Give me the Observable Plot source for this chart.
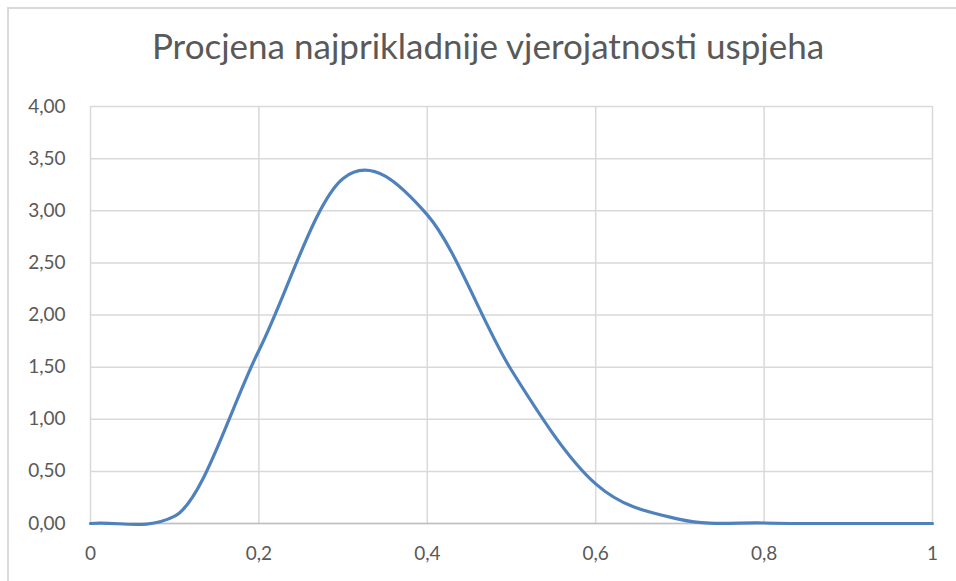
<!DOCTYPE html>
<html>
<head>
<meta charset="utf-8">
<script src="https://cdn.jsdelivr.net/npm/d3@7"></script>
<script src="https://cdn.jsdelivr.net/npm/@observablehq/plot@0.6"></script>
<style>
  html, body { margin: 0; padding: 0; background: #fff; }
  #wrap { position: relative; width: 956px; height: 581px; overflow: hidden; background: #fff; }
  #frame { position: absolute; left: 7px; top: 7px; width: 1000px; height: 1000px;
           border-top: 2px solid #d9d9d9; border-left: 2px solid #d9d9d9; box-sizing: border-box; }
  #title { position: relative; height: 90px; width: 956px; text-align: center;
           font-family: Lato, "Open Sans", sans-serif; font-size: 35px; color: #595959;
           line-height: 90px; padding-left: 20px; box-sizing: border-box; white-space: nowrap; }
  #chart { position: relative; }
  #chart svg { display: block; }
</style>
</head>
<body>
<div id="wrap">
  <div id="frame"></div>
  <div id="title">Procjena najprikladnije vjerojatnosti uspjeha</div>
  <div id="chart"></div>
</div>
<script>
const title = "Procjena najprikladnije vjerojatnosti uspjeha";
const probability = [0, 0.1, 0.2, 0.3, 0.4, 0.5, 0.6, 0.7, 0.8, 0.9, 1.0];
const density = [0, 0.07, 1.66, 3.31, 2.96, 1.47, 0.38, 0.04, 0.005, 0, 0];
const xTicks = [0, 0.2, 0.4, 0.6, 0.8, 1];
const yTicks = [0, 0.5, 1, 1.5, 2, 2.5, 3, 3.5, 4];

const data = probability.map((p, i) => ({p, d: density[i]}));
const comma = s => s.replace(".", ",");

// Smoothed line: uniform Catmull-Rom tangents, limited relative to the adjacent secant (spreadsheet-like smoothing)
function smoothCurve(context) {
  let pts = [];
  return {
    areaStart() {}, areaEnd() {},
    lineStart() { pts = []; },
    point(x, y) { pts.push([+x, +y]); },
    lineEnd() {
      const n = pts.length;
      if (!n) return;
      context.moveTo(pts[0][0], pts[0][1]);
      if (n === 1) return;
      const mx = [], my = [];
      for (let i = 0; i < n; i++) {
        const a = pts[Math.max(0, i - 1)], b = pts[Math.min(n - 1, i + 1)];
        const span = (Math.min(n - 1, i + 1) - Math.max(0, i - 1));
        mx[i] = (b[0] - a[0]) / span;
        let m = (b[1] - a[1]) / span;
        const secs = [];
        if (i > 0) secs.push(Math.abs(pts[i][1] - pts[i - 1][1]));
        if (i < n - 1) secs.push(Math.abs(pts[i + 1][1] - pts[i][1]));
        const lim = 6 * Math.min(...secs);
        if (Math.abs(m) > lim) m = Math.sign(m) * lim;
        my[i] = m;
      }
      for (let i = 0; i < n - 1; i++) {
        const p0 = pts[i], p1 = pts[i + 1];
        context.bezierCurveTo(
          p0[0] + mx[i] / 3, p0[1] + my[i] / 3,
          p1[0] - mx[i + 1] / 3, p1[1] - my[i + 1] / 3,
          p1[0], p1[1]);
      }
    },
  };
}

const plot = Plot.plot({
  width: 956,
  height: 491,
  marginTop: 16,
  marginBottom: 58,
  marginLeft: 90,
  marginRight: 24,
  style: { fontFamily: "Lato, 'Open Sans', sans-serif", fontSize: "19px", color: "#595959", background: "transparent" },
  x: { domain: [0, 1] },
  y: { domain: [0, 4] },
  marks: [
    Plot.gridX(xTicks, { stroke: "#d9d9d9", strokeOpacity: 1, strokeWidth: 1.5 }),
    Plot.gridY(yTicks, { stroke: "#d9d9d9", strokeOpacity: 1, strokeWidth: 1.5 }),
    Plot.ruleY([0], { stroke: "#bfbfbf", strokeWidth: 1.5 }),
    Plot.axisX(xTicks, { tickSize: 0, tickPadding: 23, tickFormat: d => comma(String(d)), label: null, fill: "#595959" }),
    Plot.axisY(yTicks, { tickSize: 0, tickPadding: 25, tickFormat: d => comma(d3.format(".2f")(d)), label: null, fill: "#595959" }),
    Plot.line(data, { x: "p", y: "d", stroke: "#4f81bd", strokeWidth: 3.2, curve: smoothCurve })
  ]
});
document.getElementById("chart").appendChild(plot);
</script>
</body>
</html>
